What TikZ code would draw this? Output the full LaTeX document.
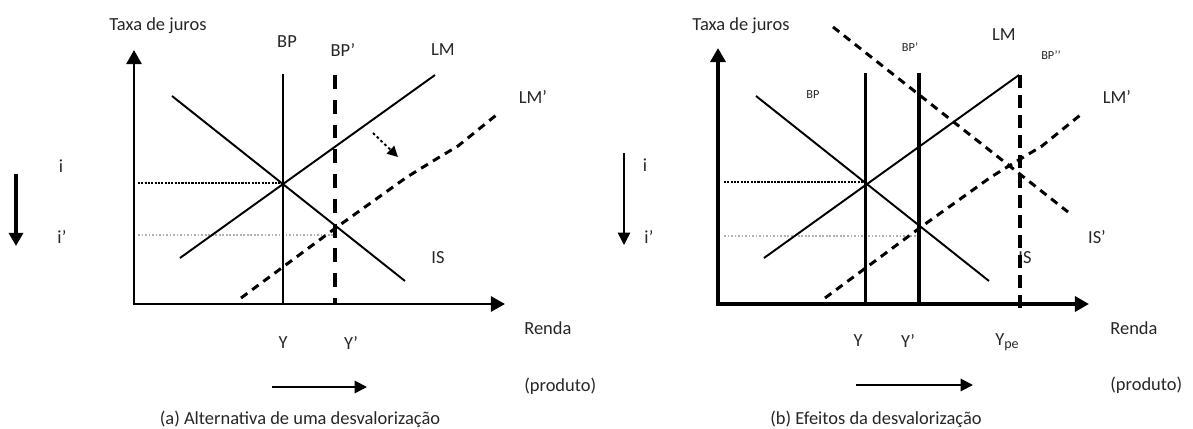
\documentclass[tikz,border=0pt]{standalone}
\usepackage{fontspec}
\setmainfont{Carlito}
\usetikzlibrary{arrows.meta}
\begin{document}
\begin{tikzpicture}[x=0.02cm,y=-0.02cm,
  lbl/.style={inner sep=0pt,font=\fontsize{10.5}{12}\selectfont,text=black!85},
  small/.style={inner sep=0pt,font=\fontsize{7}{8}\selectfont,text=black!85},
  captxt/.style={inner sep=0pt,font=\fontsize{10.5}{12}\selectfont,text=black!85},
  axisa/.style={line width=1.7pt,-{Triangle[length=8pt,width=8.5pt]}},
  axisb/.style={line width=2.3pt,-{Triangle[length=8pt,width=8.5pt]}},
  curve/.style={line width=1.1pt},
  bpline/.style={line width=1.7pt},
  bpthick/.style={line width=2.4pt},
  bpdash/.style={line width=2.6pt,dash pattern=on 7.9pt off 6.2pt},
  bpdashb/.style={line width=1.8pt,dash pattern=on 7.4pt off 4pt},
  lmdash/.style={line width=1.7pt,dash pattern=on 4.5pt off 3.4pt},
  dotdark/.style={line width=1.6pt,dash pattern=on 1.2pt off 0.7pt},
  dotgray/.style={line width=0.8pt,black!30,dash pattern=on 1pt off 1pt},
  movearrow/.style={line width=1.1pt,-{Triangle[length=6pt,width=6pt]}},
  shiftthick/.style={line width=1.9pt,-{Triangle[length=7.5pt,width=8pt]}},
  shiftthin/.style={line width=0.9pt,-{Triangle[length=7pt,width=7pt]}}
]
\useasboundingbox (0,0) rectangle (1193,429);

% ================= Panel (a) =================
\coordinate (aO) at (134,304);
\coordinate (aYtip) at (134,50);
\coordinate (aXtip) at (505,304);
\coordinate (aBPt) at (283,74);   \coordinate (aBPb) at (283,304);
\coordinate (aBPpt) at (335,75);  \coordinate (aBPpb) at (335,304);
\coordinate (aLMs) at (180,258);  \coordinate (aLMe) at (435,75);
\coordinate (aISs) at (172,96);   \coordinate (aISe) at (405,281);
\coordinate (aLMps) at (241,298); \coordinate (aLMp1) at (337,227);
\coordinate (aLMp2) at (407,177); \coordinate (aLMp3) at (433,161);
\coordinate (aLMp4) at (458,146); \coordinate (aLMpe) at (500,112);
\coordinate (aMs) at (373,133);   \coordinate (aMe) at (398,157);
\coordinate (aIs) at (138,183);   \coordinate (aIe) at (283,183);
\coordinate (aIps) at (138,235);  \coordinate (aIpe) at (335,235);
\coordinate (aDs) at (16,174);    \coordinate (aDe) at (16,246);
\coordinate (aRs) at (272,387);   \coordinate (aRe) at (367,387);

\draw[dotgray] (aIps) -- (aIpe);
\draw[dotdark] (aIs) -- (aIe);
\draw[curve] (aLMs) -- (aLMe);
\draw[curve] (aISs) -- (aISe);
\draw[lmdash] (aLMps) -- (aLMp1) -- (aLMp2) -- (aLMp3) -- (aLMp4) -- (aLMpe);
\draw[bpline] (aBPt) -- (aBPb);
\draw[bpdash] (aBPpt) -- (aBPpb);
\draw[axisa] (aO) -- (aYtip);
\draw[axisa] ([xshift=-0.85pt]aO) -- (aXtip);
\draw[movearrow,dash pattern=on 1.5pt off 1.5pt] (aMs) -- (aMe);
\draw[shiftthick] (aDs) -- (aDe);
\draw[shiftthin,line width=1.1pt] (aRs) -- (aRe);

\node[lbl] (aTaxa) at (158,26) {Taxa de juros};
\node[lbl] (aBPl) at (287,42) {BP};
\node[lbl] (aBPpl) at (343,50) {BP’};
\node[lbl] (aLMl) at (443,50) {LM};
\node[lbl] (aLMpl) at (533,97) {LM’};
\node[lbl] (aISl) at (438,258) {IS};
\node[lbl] (ai) at (61,166) {i};
\node[lbl] (aip) at (62,237) {i’};
\node[lbl] (aY) at (283,343) {Y};
\node[lbl] (aYp) at (351,343) {Y’};
\node[lbl,anchor=west] (aRenda) at (524,328) {Renda};
\node[lbl,anchor=west] (aProd) at (524,386) {(produto)};
\node[captxt] (acap) at (300,419) {(a) Alternativa de uma desvalorização};

% ================= Panel (b) =================
\coordinate (bO) at (718,304);
\coordinate (bYtip) at (718,48);
\coordinate (bXtip) at (1089,304);
\coordinate (bBPt) at (865,73);   \coordinate (bBPb) at (865,304);
\coordinate (bBPpt) at (919,73);  \coordinate (bBPpb) at (919,304);
\coordinate (bBPppt) at (1020,75); \coordinate (bBPppb) at (1020,313);
\coordinate (bLMs) at (764,258);  \coordinate (bLMe) at (1019,75);
\coordinate (bISs) at (756,96);   \coordinate (bISe) at (989,281);
\coordinate (bISps) at (833,27);  \coordinate (bISpe) at (1068,212);
\coordinate (bLMps) at (825,298); \coordinate (bLMp1) at (921,227);
\coordinate (bLMp2) at (991,177); \coordinate (bLMp3) at (1017,161);
\coordinate (bLMp4) at (1042,146); \coordinate (bLMpe) at (1084,112);
\coordinate (bIs) at (724,182);   \coordinate (bIe) at (865,182);
\coordinate (bIps) at (724,236);  \coordinate (bIpe) at (919,236);
\coordinate (bDs) at (624,153);   \coordinate (bDe) at (624,245);
\coordinate (bRs) at (856,385);   \coordinate (bRe) at (973,385);

\node[lbl] (bISl) at (1025,258) {IS};
\draw[dotgray] (bIps) -- (bIpe);
\draw[dotdark] (bIs) -- (bIe);
\draw[curve] (bLMs) -- (bLMe);
\draw[curve] (bISs) -- (bISe);
\draw[lmdash] (bLMps) -- (bLMp1) -- (bLMp2) -- (bLMp3) -- (bLMp4) -- (bLMpe);
\draw[lmdash] (bISps) -- (bISpe);
\draw[bpline] (bBPt) -- (bBPb);
\draw[bpthick] (bBPpt) -- (bBPpb);
\draw[bpdashb] (bBPppt) -- (bBPppb);
\draw[axisb] (bO) -- (bYtip);
\draw[axisb] ([xshift=-1.15pt]bO) -- (bXtip);
\draw[shiftthin] (bDs) -- (bDe);
\draw[shiftthin,line width=1.1pt] (bRs) -- (bRe);

\node[lbl] (bTaxa) at (741,26) {Taxa de juros};
\node[small] (bBPl) at (813,95) {BP};
\node[small] (bBPpl) at (910,47) {BP'};
\node[small] (bBPppl) at (1051,55) {BP{'}{'}};
\node[lbl] (bLMl) at (1004,35) {LM};
\node[lbl] (bLMpl) at (1117,97) {LM'};
\node[lbl] (bISpl) at (1097,237) {IS'};
\node[lbl] (bi) at (645,165) {i};
\node[lbl] (bip) at (649,237) {i’};
\node[lbl] (bY) at (858,341) {Y};
\node[lbl] (bYp) at (908,341) {Y'};
\node[lbl] (bYpe) at (1007,342) {Y\raisebox{-0.35ex}{\fontsize{8}{9}\selectfont pe}};
\node[lbl,anchor=west] (bRenda) at (1110,328) {Renda};
\node[lbl,anchor=west] (bProd) at (1110,385) {(produto)};
\node[captxt] (bcap) at (876,419) {(b) Efeitos da desvalorização};
\end{tikzpicture}
\end{document}
